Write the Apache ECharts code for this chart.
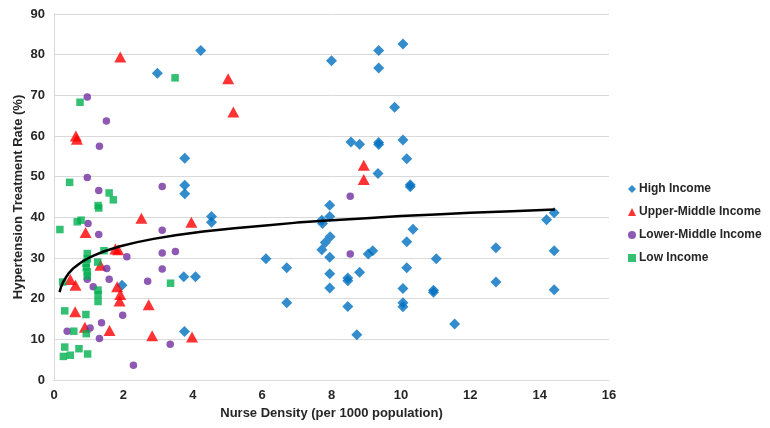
<!DOCTYPE html>
<html>
<head>
<meta charset="utf-8">
<script src="https://cdn.jsdelivr.net/npm/echarts@6/dist/echarts.min.js"></script>
<style>
html,body{margin:0;padding:0;background:#fff;}
#chart{width:770px;height:428px;}
</style>
</head>
<body>
<div id="chart"></div>
<script>
// Data: [nurse density, treatment rate %]
const highIncome = [
  [1.96,23.3],[2.98,75.4],[3.74,25.4],[3.76,11.9],[3.77,54.5],[3.77,47.9],[3.77,45.8],[4.08,25.4],
  [4.23,81.0],[4.54,40.2],[4.54,38.8],[6.11,29.8],[6.71,27.6],[6.71,19.0],[7.72,39.3],[7.74,38.5],
  [7.72,32.0],[7.82,33.8],[7.96,35.2],[7.95,43.0],[7.95,40.2],[7.95,30.2],[7.95,26.1],[7.95,22.6],
  [8.0,78.5],[8.47,25.1],[8.47,24.4],[8.47,18.1],[8.56,58.5],[8.73,11.1],[8.81,58.0],[8.81,26.5],
  [9.06,31.0],[9.19,31.8],[9.36,81.0],[9.36,76.7],[9.36,58.4],[9.36,57.9],[9.34,50.8],[9.82,67.1],
  [10.06,82.6],[10.06,59.0],[10.06,22.5],[10.06,19.0],[10.06,18.0],[10.17,54.4],[10.17,34.0],
  [10.17,27.6],[10.27,48.0],[10.27,47.5],[10.35,37.1],[10.94,22.1],[10.94,21.6],[11.02,29.8],
  [11.55,13.8],[12.74,32.5],[12.74,24.1],[14.2,39.4],[14.42,41.1],[14.42,31.8],[14.42,22.2]
];
const upperMiddleIncome = [
  [0.47,24.7],[0.62,23.3],[0.61,16.8],[0.63,60.0],[0.66,59.2],[0.91,36.3],[0.89,13.0],[1.34,28.2],
  [1.6,12.2],[1.77,32.2],[1.85,32.0],[1.82,22.9],[1.91,21.0],[1.89,19.4],[1.91,79.4],[2.52,39.8],
  [2.73,18.5],[2.83,10.9],[3.96,38.8],[3.98,10.6],[5.02,74.1],[5.17,65.9],[8.93,52.8],[8.93,49.3]
];
const lowerMiddleIncome = [
  [0.38,12.0],[0.96,69.6],[1.51,63.7],[1.31,57.5],[0.96,49.8],[1.29,46.6],[3.12,47.6],[0.98,38.5],
  [1.29,35.8],[3.12,36.8],[2.10,30.3],[3.12,31.2],[3.50,31.6],[1.52,27.4],[0.96,24.8],[1.59,24.8],
  [1.13,22.9],[2.7,24.3],[3.12,27.3],[1.98,15.9],[1.04,12.8],[1.37,14.1],[1.31,10.2],[3.35,8.8],
  [2.29,3.6],[8.54,45.2],[8.54,31.0]
];
const lowIncome = [
  [0.17,37.0],[0.25,24.1],[0.27,5.8],[0.31,17.0],[0.31,8.1],[0.45,48.6],[0.47,6.1],[0.57,12.0],
  [0.67,38.9],[0.72,7.7],[0.75,68.3],[0.78,39.3],[0.92,16.1],[0.93,11.4],[0.96,31.1],[0.96,29.8],
  [0.93,28.7],[0.93,27.6],[0.96,26.6],[0.96,25.6],[0.97,6.4],[1.26,29.0],[1.27,42.9],[1.29,42.3],
  [1.27,22.1],[1.27,21.0],[1.27,19.3],[1.44,31.8],[1.59,46.0],[1.71,44.3],[3.36,23.8],[3.49,74.3]
];
// Trend line points
const trendLine = [
  [0.16,21.6],[0.2,22.8],[0.27,24.2],[0.34,25.2],[0.42,26.2],[0.56,27.5],[0.7,28.4],[0.85,29.3],
  [1.0,30.0],[1.14,30.6],[1.43,31.6],[1.91,32.9],[2.4,33.9],[2.87,34.7],[3.5,35.6],[4.3,36.5],
  [5.2,37.3],[6.1,38.0],[7.0,38.7],[7.9,39.2],[9.0,39.8],[10,40.3],[11,40.7],[12,41.1],[13.2,41.5],[14.44,41.9]
];
const seriesNames = ['High Income','Upper-Middle Income','Lower-Middle Income','Low Income'];
const xTicks = {min:0, max:16, interval:2};
const yTicks = {min:0, max:90, interval:10};

const FONT = '"Liberation Sans", Arial, sans-serif';
const chart = echarts.init(document.getElementById('chart'), null, {renderer:'canvas'});
const labelStyle = {fontFamily:FONT, fontSize:13, fontWeight:'bold', color:'#262626'};

chart.setOption({
  animation:false,
  backgroundColor:'#ffffff',
  grid:{left:54, right:161, top:14, bottom:48, containLabel:false},
  legend:{
    data:seriesNames,
    orient:'vertical',
    left:623, top:178,
    itemWidth:8, itemHeight:8, itemGap:11,
    textStyle:{fontFamily:FONT, fontSize:12, fontWeight:'bold', color:'#262626', padding:[0,0,0,-2]}
  },
  xAxis:{
    type:'value', min:xTicks.min, max:xTicks.max, interval:xTicks.interval,
    name:'Nurse Density (per 1000 population)', nameLocation:'middle', nameGap:26,
    nameTextStyle:labelStyle,
    axisLine:{show:true, lineStyle:{color:'#d9d9d9', width:1}},
    axisTick:{show:false},
    axisLabel:Object.assign({margin:9}, labelStyle),
    splitLine:{show:false}
  },
  yAxis:{
    type:'value', min:yTicks.min, max:yTicks.max, interval:yTicks.interval,
    name:'Hypertension Treatment Rate (%)', nameLocation:'middle', nameGap:29, nameRotate:90,
    nameMoveOverlap:false,
    nameTextStyle:labelStyle,
    axisLine:{show:true, lineStyle:{color:'#d9d9d9', width:1}},
    axisTick:{show:false},
    axisLabel:Object.assign({margin:9}, labelStyle),
    splitLine:{show:true, lineStyle:{color:'#d9d9d9', width:1}}
  },
  series:[
    {name:seriesNames[0], type:'scatter', data:highIncome, symbol:'diamond', symbolSize:11,
     itemStyle:{color:'#0070C0'}},
    {name:seriesNames[1], type:'scatter', data:upperMiddleIncome, symbol:'triangle', symbolSize:[12,11],
     itemStyle:{color:'#FF0000'}},
    {name:seriesNames[2], type:'scatter', data:lowerMiddleIncome, symbol:'circle', symbolSize:7.5,
     itemStyle:{color:'#7030A0'}},
    {name:seriesNames[3], type:'scatter', data:lowIncome, symbol:'rect', symbolSize:7.5,
     itemStyle:{color:'#00B050'}},
    {name:'Trend', type:'line', data:trendLine, smooth:false, showSymbol:false, symbol:'none',
     lineStyle:{color:'#000000', width:2.5}, z:5, silent:true}
  ]
});
</script>
</body>
</html>
